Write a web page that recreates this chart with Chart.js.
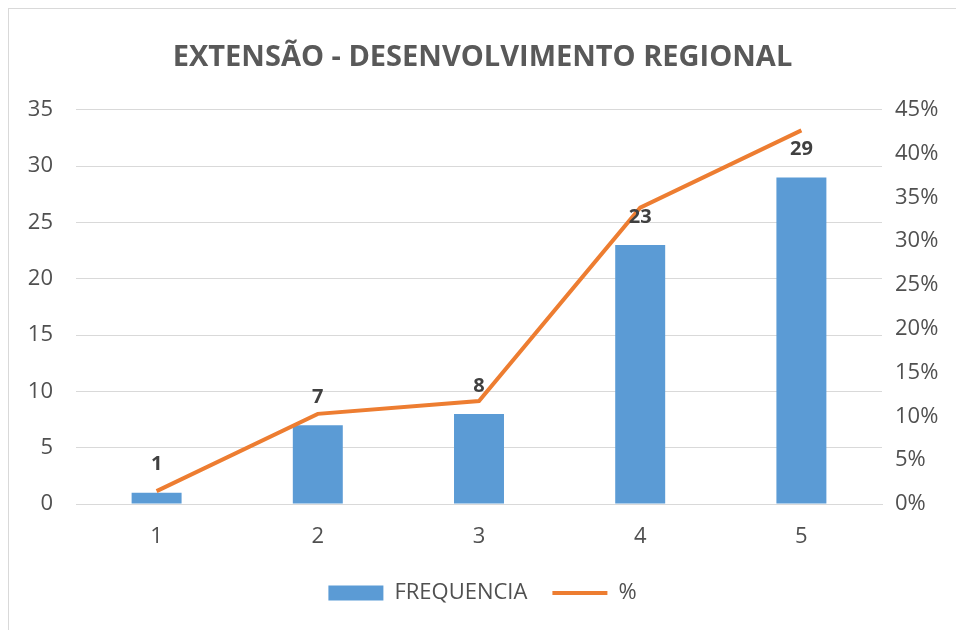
<!DOCTYPE html>
<html>
<head>
<meta charset="utf-8">
<script src="https://cdn.jsdelivr.net/npm/chart.js@4.4.1/dist/chart.umd.min.js"></script>
<style>
  html, body { margin: 0; padding: 0; background: #fff; }
  #wrap {
    position: absolute; left: 8px; top: 8px; width: 947px; height: 621px;
    border-left: 1px solid #d9d9d9; border-top: 1px solid #d9d9d9; background: #fff;
  }
  canvas { display: block; }
</style>
</head>
<body>
<div id="wrap"><canvas id="chart" width="947" height="621"></canvas></div>
<script>
const categories = ["1", "2", "3", "4", "5"];
const frequencia = [1, 7, 8, 23, 29];
const percent = [1.47, 10.29, 11.76, 33.82, 42.65];
const leftTicks = [0, 35, 5];   // min, max, step
const rightTicks = [0, 45, 5];

const textColor = "#505050";
const fontFamily = "'Open Sans', sans-serif";

// value labels above the bars
const barLabels = {
  id: "barLabels",
  afterDatasetsDraw(chart) {
    const meta = chart.getDatasetMeta(1);
    const ctx = chart.ctx;
    ctx.save();
    ctx.font = "bold 20px " + fontFamily;
    ctx.fillStyle = "#404040";
    ctx.textAlign = "center";
    ctx.textBaseline = "middle";
    meta.data.forEach((bar, i) => {
      ctx.fillText(String(frequencia[i]), bar.x, bar.y - 28);
    });
    ctx.restore();
  },
};

new Chart(document.getElementById("chart").getContext("2d"), {
  data: {
    labels: categories,
    datasets: [
      {
        type: "line",
        label: "%",
        data: percent,
        yAxisID: "y1",
        borderColor: "#ed7d31",
        backgroundColor: "#ed7d31",
        borderWidth: 4,
        pointRadius: 0,
        tension: 0,
        pointStyle: "line",
        order: 0,
      },
      {
        type: "bar",
        label: "FREQUENCIA",
        data: frequencia,
        yAxisID: "y",
        backgroundColor: "#5b9bd5",
        borderWidth: 0,
        categoryPercentage: 1,
        barPercentage: 0.31,
        pointStyle: "rect",
        order: 1,
      },
    ],
  },
  options: {
    responsive: false,
    animation: false,
    layout: { padding: { left: 0, right: 0, top: 0, bottom: 16 } },
    plugins: {
      title: {
        display: true,
        text: "EXTENSÃO - DESENVOLVIMENTO REGIONAL",
        color: "#595959",
        font: { family: fontFamily, size: 29, weight: "bold" },
        padding: { top: 31, bottom: 35 },
      },
      legend: {
        position: "bottom",
        reverse: true,
        labels: {
          usePointStyle: true,
          pointStyleWidth: 55,
          boxHeight: 15,
          padding: 25,
          color: textColor,
          font: { family: fontFamily, size: 22 },
        },
      },
      tooltip: { enabled: false },
    },
    scales: {
      x: {
        grid: { display: false },
        border: { color: "#d9d9d9" },
        ticks: { color: textColor, padding: 12, font: { family: fontFamily, size: 22 } },
        afterFit: (s) => { s.height = 53; },
      },
      y: {
        position: "left",
        min: leftTicks[0],
        max: leftTicks[1],
        grid: { color: "#d9d9d9", drawTicks: false },
        border: { display: false },
        ticks: { stepSize: leftTicks[2], color: textColor, padding: 23, font: { family: fontFamily, size: 22 } },
        afterFit: (s) => { s.width = 67; },
      },
      y1: {
        position: "right",
        min: rightTicks[0],
        max: rightTicks[1],
        grid: { display: false, drawTicks: false },
        border: { display: false },
        ticks: {
          stepSize: rightTicks[2],
          color: textColor,
          padding: 13,
          font: { family: fontFamily, size: 22 },
          callback: (v) => v + "%",
        },
        afterFit: (s) => { s.width = 74; },
      },
    },
  },
  plugins: [barLabels],
});
</script>
</body>
</html>
